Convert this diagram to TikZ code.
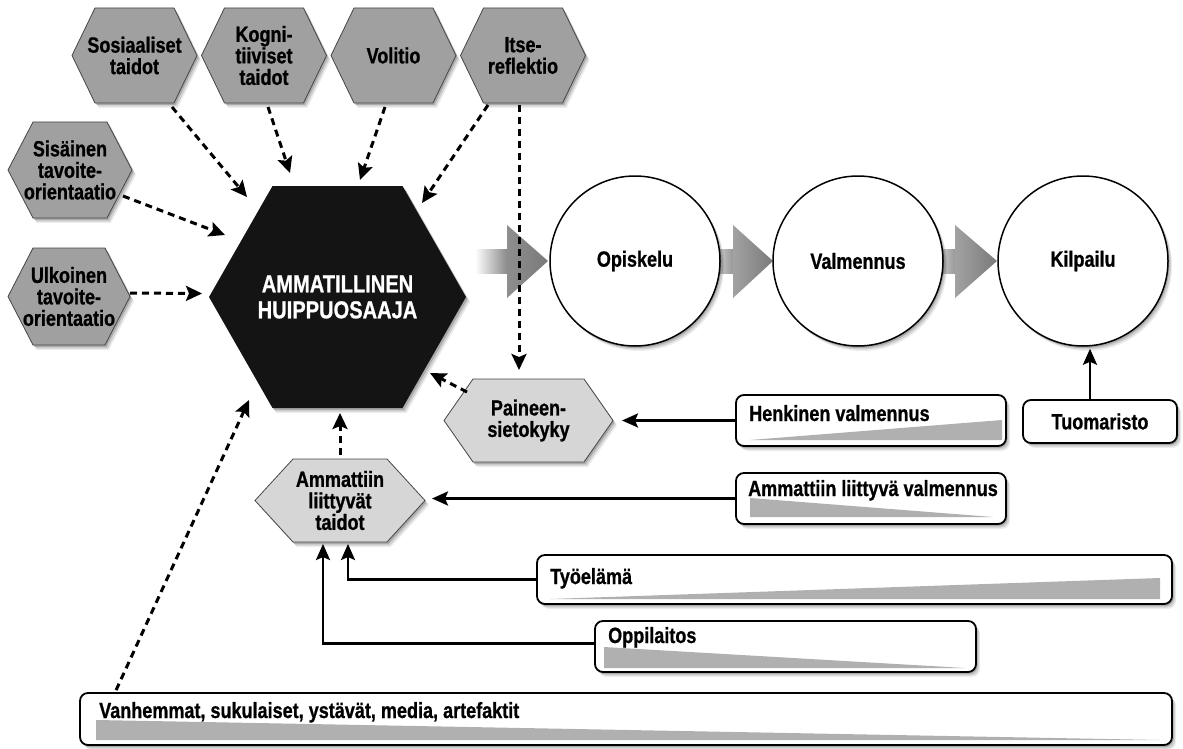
\documentclass[tikz,border=0pt]{standalone}
\usepackage{fontspec}
\setmainfont{Liberation Sans}[FakeStretch=0.82, BoldFeatures={FakeBold=0.8}]
\usetikzlibrary{arrows.meta,shadows,calc}
\definecolor{hexgray}{RGB}{160,160,160}
\definecolor{hexlight}{RGB}{214,214,214}
\definecolor{wedgegray}{RGB}{176,176,176}
\definecolor{arrgray}{RGB}{122,122,122}
\definecolor{hexline}{RGB}{70,70,70}

% name, cx, cy, half width, half height, inset, path style, node style, text
\newcommand\hexnode[9]{%
  \path[#7] ({#2-#4},#3) -- ({#2-#4+#6},{#3-#5}) -- ({#2+#4-#6},{#3-#5}) -- ({#2+#4},#3)
     -- ({#2+#4-#6},{#3+#5}) -- ({#2-#4+#6},{#3+#5}) -- cycle;
  \node[hextext, minimum width={2*#4pt}, minimum height={2*#5pt}, #8] (#1) at (#2,#3) {#9};
}

\begin{document}
\begin{tikzpicture}[x=1pt,y=-1pt,
  softshadow/.style={drop shadow={shadow xshift=4pt,shadow yshift=-5pt,opacity=0.07,fill=black},
                     drop shadow={shadow xshift=3pt,shadow yshift=-3.5pt,opacity=0.12,fill=black},
                     drop shadow={shadow xshift=1.5pt,shadow yshift=-2pt,opacity=0.18,fill=black}},
  hextext/.style={rectangle, inner sep=0pt, outer sep=0pt, align=center,
                  font=\fontsize{22}{21.5}\selectfont\bfseries},
  hexfill/.style={fill=hexgray, draw=hexline, line width=0.8pt, softshadow},
  hexlightfill/.style={fill=hexlight, draw=hexline, line width=0.8pt, softshadow},
  cenfill/.style={fill=black!92, softshadow},
  centext/.style={text=white, font=\fontsize{24.5}{26}\selectfont\bfseries},
  circ/.style={circle, draw=black, line width=1.5pt, fill=white, minimum size=170pt,
               inner sep=0pt, font=\fontsize{22}{22}\selectfont\bfseries, softshadow},
  infobox/.style={rectangle, draw=black, line width=1.8pt, rounded corners=8pt, fill=white,
               inner sep=0pt, font=\fontsize{22}{22}\selectfont\bfseries, softshadow},
  boxtext/.style={anchor=base west, inner sep=0pt, font=\fontsize{22}{22}\selectfont\bfseries},
  dasharrow/.style={line width=3pt, dash pattern=on 7pt off 5pt,
                    -{Stealth[length=16pt,width=15pt,inset=3pt]}},
  solidarrow/.style={line width=2.6pt, -{Stealth[length=16pt,width=14pt,inset=3pt]}}
]
\useasboundingbox (0,0) rectangle (1183,749);
\fill[white] (0,0) rectangle (1183,749);

% gradient process arrows
\shade[left color=white, right color=arrgray!90!white] (475,249) rectangle (508,273);
\shade[left color=arrgray!85!white, right color=arrgray] (507,225) -- (548,261) -- (507,298) -- cycle;
\shade[left color=arrgray!40!white, right color=arrgray!80!white] (718,249) rectangle (734,273);
\shade[left color=arrgray!70!white, right color=arrgray] (733,225) -- (773,261) -- (733,298) -- cycle;
\shade[left color=arrgray!40!white, right color=arrgray!80!white] (941,249) rectangle (956,273);
\shade[left color=arrgray!70!white, right color=arrgray] (955,225) -- (997,261) -- (955,298) -- cycle;

% hexagons
\hexnode{sos}{134.5}{55.5}{62.5}{47.5}{23}{hexfill}{}{Sosiaaliset\\taidot}
\hexnode{kog}{264}{55.5}{62.5}{47.5}{23}{hexfill}{}{Kogni-\\tiiviset\\taidot}
\hexnode{vol}{393.5}{55.5}{62.5}{47.5}{23}{hexfill}{}{Volitio}
\hexnode{its}{523}{55.5}{62.5}{47.5}{23}{hexfill}{}{Itse-\\reflektio}
\hexnode{sis}{70}{170}{62}{48}{25}{hexfill}{}{Sisäinen\\tavoite-\\orientaatio}
\hexnode{ulk}{69}{296.5}{61}{48.5}{25}{hexfill}{}{Ulkoinen\\tavoite-\\orientaatio}
\hexnode{cen}{337.5}{297}{128.5}{111}{63.5}{cenfill}{centext}{AMMATILLINEN\\HUIPPUOSAAJA}
\hexnode{pai}{528.5}{420.5}{84.5}{41.5}{29}{hexlightfill}{}{Paineen-\\sietokyky}
\hexnode{amt}{340}{500.5}{85}{41.5}{38}{hexlightfill}{}{Ammattiin\\liittyvät\\taidot}

% circles
\node[circ] (opi) at (635,261) {Opiskelu};
\node[circ] (val) at (858,261) {Valmennus};
\node[circ] (kil) at (1083,261) {Kilpailu};

% boxes
\node[infobox, minimum width=270pt, minimum height=51pt] (hen) at (871,420.5) {};
\fill[wedgegray] (750,440) -- (1002,420) -- (1002,440) -- cycle;
\node[boxtext] (hent) at (749,421) {Henkinen valmennus};

\node[infobox, minimum width=154pt, minimum height=43pt] (tuo) at (1100,421.5) {Tuomaristo};

\node[infobox, minimum width=270pt, minimum height=51pt] (amv) at (871,498.5) {};
\fill[wedgegray] (750,498) -- (750,517) -- (993,517) -- cycle;
\node[boxtext] (amvt) at (748,496) {Ammattiin liittyvä valmennus};

\node[infobox, minimum width=635pt, minimum height=49pt] (tyo) at (854.5,579.5) {};
\fill[wedgegray] (550,599) -- (1160,578) -- (1160,599) -- cycle;
\node[boxtext] (tyot) at (550,584) {Työelämä};

\node[infobox, minimum width=381pt, minimum height=51pt] (opp) at (785.5,646.5) {};
\fill[wedgegray] (604,647) -- (604,668) -- (965,668) -- cycle;
\node[boxtext] (oppt) at (608,643) {Oppilaitos};

\node[infobox, minimum width=1092pt, minimum height=52pt] (van) at (626,719) {};
\fill[wedgegray] (96,720) -- (96,740) -- (1160,740) -- cycle;
\node[boxtext] (vant) at (99,718) {Vanhemmat, sukulaiset, ystävät, media, artefaktit};

% dashed influence arrows
\draw[dasharrow] ($(sos.south)+(37.5,4)$) -- ($(cen.north)+(-90.5,11)$);
\draw[dasharrow] ($(kog.south)+(4,4)$) -- ($(cen.north)+(-47.5,-13)$);
\draw[dasharrow] ($(vol.south)+(-8.5,4)$) -- ($(cen.north)+(22.5,-6)$);
\draw[dasharrow] ($(its.south)+(-35,2)$) -- ($(cen.north)+(84.5,17)$);
\draw[dasharrow] ($(its.south)+(-4,2)$) -- ($(pai.north)+(-9.5,-9)$);
\draw[dasharrow] ($(sis.east)+(-9,26)$) -- ($(cen.west)+(16,-62)$);
\draw[dasharrow] ($(ulk.east)+(0,-3.5)$) -- ($(cen.west)+(-7,-3.5)$);
\draw[dasharrow] ($(pai.north west)+(23,13)$) -- ($(cen.east)+(-36,76)$);
\draw[dasharrow] ($(amt.north)+(0,-4)$) -- ($(cen.south)+(2.5,5)$);
\draw[dasharrow] ($(van.north west)+(37,-2)$) -- ($(cen.south west)+(40,-8)$);

% solid arrows
\draw[solidarrow] (hen.west) -- ($(pai.east)+(9,0)$);
\draw[solidarrow] (amv.west) -- ($(amv.west -| amt.east)+(7,0)$);
\draw[solidarrow] (tyo.west) -| ($(amt.south)+(8,2)$);
\draw[solidarrow] ([yshift=3pt]opp.west) -| ($(amt.south)+(-17,2)$);
\draw[solidarrow] ([xshift=-10pt]tuo.north) -- ($(kil.south)+(7,2)$);
\end{tikzpicture}
\end{document}
